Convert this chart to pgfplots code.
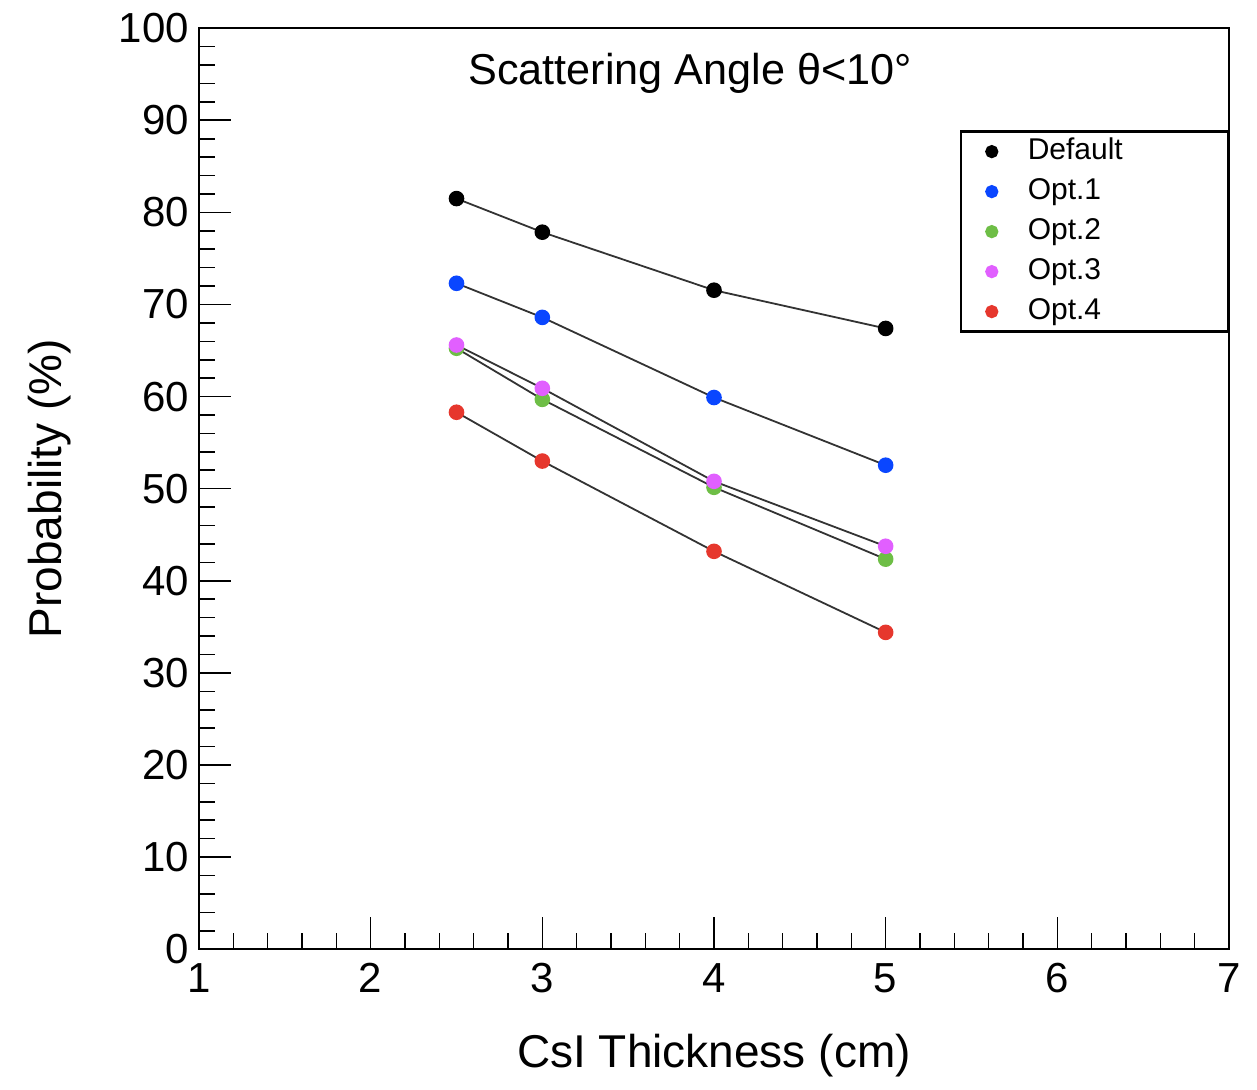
\documentclass[border=0pt]{standalone}
\usepackage{pgfplots}
\pgfplotsset{compat=1.18}
\usepackage{pgfplotstable}
\usepackage{fontspec}
\setmainfont{Liberation Sans}
\definecolor{cBlue}{RGB}{10,70,255}
\definecolor{cGreen}{RGB}{110,190,70}
\definecolor{cMag}{RGB}{225,95,255}
\definecolor{cRed}{RGB}{230,55,45}
\pgfplotstableread{
x y
2.5 81.5
3 77.85
4 71.55
5 67.4
}\tDefault
\pgfplotstableread{
x y
2.5 72.3
3 68.6
4 59.9
5 52.55
}\tOptA
\pgfplotstableread{
x y
2.5 65.25
3 59.7
4 50.15
5 42.35
}\tOptB
\pgfplotstableread{
x y
2.5 65.6
3 60.9
4 50.8
5 43.75
}\tOptC
\pgfplotstableread{
x y
2.5 58.3
3 53.0
4 43.2
5 34.4
}\tOptD
\begin{document}
\begin{tikzpicture}
\begin{axis}[
  scale only axis,
  width=257.5pt, height=230.25pt,
  xmin=1, xmax=7, ymin=0, ymax=100,
  xtick={1,2,3,4,5,6,7},
  ytick={0,10,20,30,40,50,60,70,80,90,100},
  minor x tick num=4,
  minor y tick num=4,
  tick pos=left,
  tick align=inside,
  major tick length=8pt,
  minor tick length=4pt,
  axis line style={line width=0.6pt},
  every tick/.style={black, line width=0.4pt},
  /pgf/number format/assume math mode=true,
  ticklabel style={font=\fontsize{10.5}{12}\selectfont},
  yticklabel style={xshift=1pt},
  xlabel={CsI Thickness (cm)},
  ylabel={Probability (\%)},
  label style={font=\fontsize{11.5}{13}\selectfont},
  xlabel style={at={(axis description cs:0.5,-0.1151)}, anchor=center},
  ylabel style={at={(axis description cs:-0.1447,0.5)}, anchor=center},
  legend style={at={(axis description cs:1,0.889)}, anchor=north east, draw=black, line width=0.6pt,
    font=\fontsize{7.5}{8}\selectfont, row sep=0pt, column sep=0pt, inner xsep=0.5pt, inner ysep=0pt,
    nodes={text width=48pt, text height=5.5pt, text depth=1.5pt, inner sep=1.5pt}},
  legend cell align=left,
  legend image code/.code={%
    \path[draw=none, fill=none] (-7.2pt,0pt) -- (7.5pt,0pt);
    \fill (0pt,0pt) circle (1.35pt);},
]
\addplot[black!80, line width=0.45pt, forget plot] table {\tDefault};
\addplot[black!80, line width=0.45pt, forget plot] table {\tOptA};
\addplot[black!80, line width=0.45pt, forget plot] table {\tOptB};
\addplot[black!80, line width=0.45pt, forget plot] table {\tOptC};
\addplot[black!80, line width=0.45pt, forget plot] table {\tOptD};
\addplot[only marks, mark=*, mark size=1.75pt, black] table {\tDefault};
\addplot[only marks, mark=*, mark size=1.75pt, cBlue] table {\tOptA};
\addplot[only marks, mark=*, mark size=1.75pt, cGreen] table {\tOptB};
\addplot[only marks, mark=*, mark size=1.75pt, cMag] table {\tOptC};
\addplot[only marks, mark=*, mark size=1.75pt, cRed] table {\tOptD};
\legend{Default, Opt.1, Opt.2, Opt.3, Opt.4}
\node[font=\fontsize{10.8}{13}\selectfont, anchor=center] at (axis description cs:0.477,0.951) {Scattering Angle θ<10°};
\end{axis}
\path (current axis.south west) ++(-49.75pt,-32.75pt);
\path (current axis.north east) ++(7pt,7pt);
\end{tikzpicture}
\end{document}
